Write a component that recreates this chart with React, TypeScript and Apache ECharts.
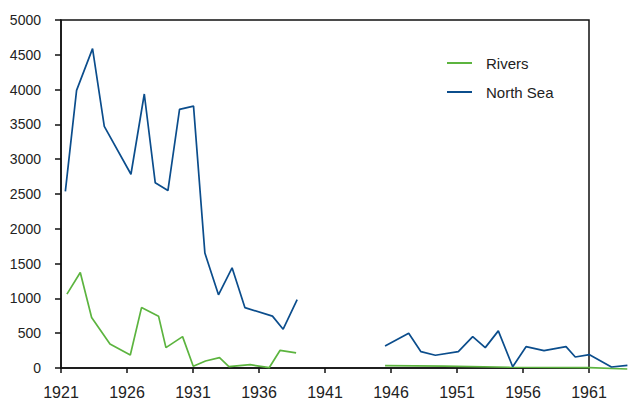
import React, { useEffect, useRef } from "react";
import * as echarts from "echarts";

const seriesNames = ["Rivers", "North Sea"];

const riversYears = [1921.45, 1922.46, 1923.32, 1924.71, 1926.25, 1927.1, 1928.39, 1928.95, 1930.21, 1931.02, 1931.95, 1933.01, 1933.72, 1935.33, 1936.77, 1937.6, 1938.81, 1942, 1945.55, 1950, 1955, 1961, 1963.9];
const riversValues: (number | string)[] = [1073, 1383, 737, 359, 201, 880, 757, 306, 464, 39, 115, 162, 33, 62, 19, 268, 230, "-", 47, 40, 25, 20, 0];

const northSeaYears = [1921.33, 1922.18, 1923.39, 1924.28, 1926.3, 1927.31, 1928.14, 1929.1, 1929.98, 1931.04, 1931.9, 1932.93, 1933.96, 1934.93, 1937.02, 1937.83, 1938.89, 1942, 1945.55, 1947.34, 1948.27, 1949.36, 1951.1, 1952.19, 1953.14, 1954.13, 1955.22, 1956.23, 1957.59, 1959.26, 1959.96, 1961.04, 1962.7, 1963.91];
const northSeaValues: (number | string)[] = [2546, 3992, 4590, 3475, 2790, 3940, 2667, 2556, 3719, 3767, 1661, 1063, 1450, 880, 757, 570, 995, "-", 330, 513, 248, 197, 248, 464, 306, 546, 33, 320, 263, 320, 172, 205, 29, 53];

const xMin = 1921;
const xMax = 1961;
const xStep = 5;
const yMin = 0;
const yMax = 5000;
const yStep = 500;

const FONT = "'Liberation Sans', Arial, sans-serif";

const W = 628;
const GRID_LEFT = 61;
const GRID_RIGHT = 39;
const GRID_TOP = 20;
const GRID_BOTTOM = 31;

export default function App() {
  const ref = useRef<HTMLDivElement>(null);
  useEffect(() => {
    if (!ref.current) return;
    const chart = echarts.init(ref.current, null, { renderer: "svg" });
    const pair = (xs: number[], ys: (number | string)[]) => xs.map((x, i) => [x, ys[i]]);
    // data grid extends to the right edge of the picture, same scale as the framed axis
    const frameWidth = W - GRID_LEFT - GRID_RIGHT;
    const dataWidth = W - GRID_LEFT;
    const xMaxData = xMin + ((xMax - xMin) * dataWidth) / frameWidth;
    chart.setOption({
      animation: false,
      backgroundColor: "#ffffff",
      grid: [
        {
          left: GRID_LEFT,
          right: 0,
          top: GRID_TOP,
          bottom: GRID_BOTTOM,
          show: false,
          containLabel: false,
        },
        {
          left: GRID_LEFT,
          right: GRID_RIGHT,
          top: GRID_TOP,
          bottom: GRID_BOTTOM,
          show: true,
          backgroundColor: "transparent",
          borderColor: "#111",
          borderWidth: 1.5,
          containLabel: false,
          z: 3,
        },
      ],
      legend: {
        orient: "vertical",
        left: 442,
        top: 50,
        icon: "rect",
        itemWidth: 25,
        itemHeight: 2,
        itemGap: 13,
        data: seriesNames,
        textStyle: {
          fontFamily: FONT,
          fontSize: 15,
          lineHeight: 16,
          color: "#222",
          padding: [0, 0, 0, 9],
        },
      },
      xAxis: [
        {
          gridIndex: 0,
          type: "value",
          min: xMin,
          max: xMaxData,
          show: false,
        },
        {
          gridIndex: 1,
          type: "value",
          min: xMin,
          max: xMax,
          interval: xStep,
          splitLine: { show: false },
          axisLine: { show: true, onZero: false, lineStyle: { color: "#111", width: 1.5 } },
          axisTick: { show: true, inside: false, length: 5, lineStyle: { color: "#111", width: 1.5 } },
          axisLabel: {
            fontFamily: FONT,
            fontSize: 16,
            color: "#222",
            margin: 16,
            formatter: (v: number) => String(Math.round(v)),
          },
        },
      ],
      yAxis: [
        {
          gridIndex: 0,
          type: "value",
          min: yMin,
          max: yMax,
          show: false,
        },
        {
          gridIndex: 1,
          type: "value",
          min: yMin,
          max: yMax,
          interval: yStep,
          splitLine: { show: false },
          axisLine: { show: true, lineStyle: { color: "#111", width: 1.5 } },
          axisTick: { show: true, inside: false, length: 6, lineStyle: { color: "#111", width: 1.5 } },
          axisLabel: {
            fontFamily: FONT,
            fontSize: 14,
            color: "#222",
            margin: 20,
            formatter: (v: number) => String(v),
          },
        },
      ],
      series: [
        {
          name: seriesNames[0],
          type: "line",
          xAxisIndex: 0,
          yAxisIndex: 0,
          data: pair(riversYears, riversValues),
          symbol: "none",
          clip: false,
          connectNulls: false,
          lineStyle: { color: "#5cb43f", width: 1.7 },
          itemStyle: { color: "#5cb43f" },
        },
        {
          name: seriesNames[1],
          type: "line",
          xAxisIndex: 0,
          yAxisIndex: 0,
          data: pair(northSeaYears, northSeaValues),
          symbol: "none",
          clip: false,
          connectNulls: false,
          lineStyle: { color: "#0b4d8c", width: 1.7 },
          itemStyle: { color: "#0b4d8c" },
        },
      ],
    });
    return () => chart.dispose();
  }, []);
  return <div ref={ref} style={{ width: 628, height: 400, position: "absolute", left: 0, top: 0 }} />;
}
